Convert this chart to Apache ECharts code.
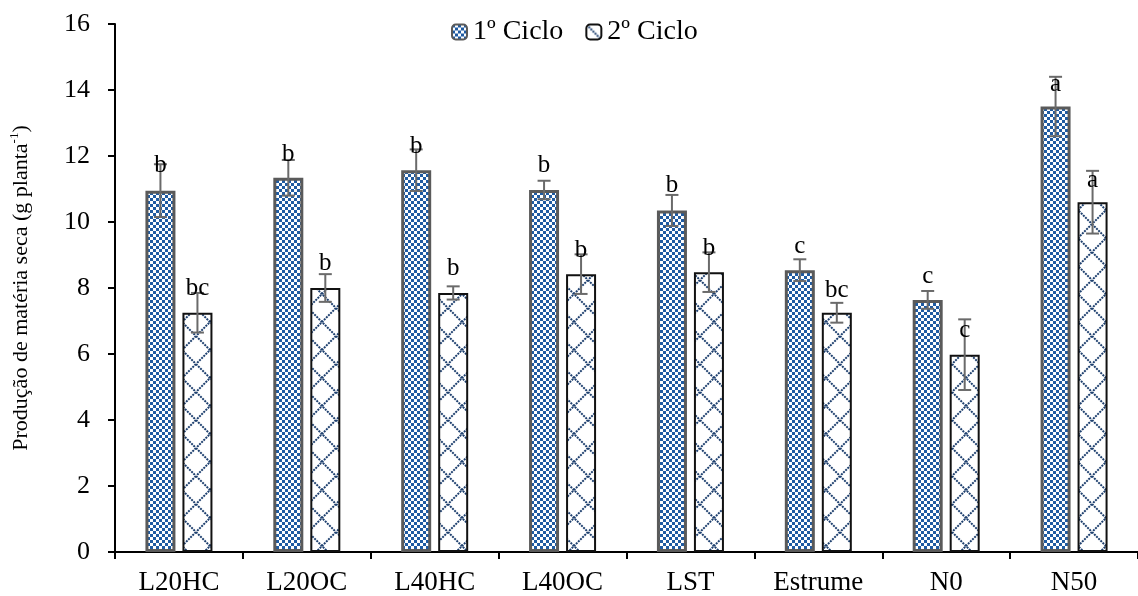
<!DOCTYPE html>
<html>
<head>
<meta charset="utf-8">
<script src="https://cdn.jsdelivr.net/npm/echarts@6/dist/echarts.min.js"></script>
<style>html,body{margin:0;padding:0;background:#fff}#c{width:1138px;height:596px}</style>
</head>
<body>
<div id="c"></div>
<script>
const categories = ['L20HC','L20OC','L40HC','L40OC','LST','Estrume','N0','N50'];
const ciclo1 = [10.95, 11.34, 11.57, 10.97, 10.35, 8.54, 7.64, 13.5];
const ciclo1Err = [0.8, 0.54, 0.63, 0.28, 0.47, 0.33, 0.27, 0.9];
const ciclo2 = [7.25, 8.0, 7.85, 8.42, 8.48, 7.25, 5.98, 10.6];
const ciclo2Err = [0.6, 0.42, 0.2, 0.6, 0.6, 0.3, 1.07, 0.95];
const letters1 = ['b','b','b','b','b','c','c','a'];
const letters2 = ['bc','b','b','b','b','bc','c','a'];
const letters1Y = [11.70, 12.06, 12.30, 11.70, 11.10, 9.26, 8.36, 14.17];
const letters2Y = [8.00, 8.75, 8.60, 9.14, 9.20, 7.94, 6.71, 11.25];
const seriesNames = ['1º Ciclo', '2º Ciclo'];
const yTicks = {min: 0, max: 16, interval: 2};

const FONT = "'Liberation Serif','Times New Roman',serif";
const BAR_W = 30, BAR_GAP = 7;
const OFFSET = (BAR_W + BAR_GAP) / 2;

function checker() {
  const c = document.createElement('canvas');
  c.width = 6; c.height = 6;
  const g = c.getContext('2d');
  g.fillStyle = '#ffffff'; g.fillRect(0,0,6,6);
  g.fillStyle = '#1f5ba2';
  g.fillRect(0,0,3,3); g.fillRect(3,3,3,3);
  return c;
}
function lattice() {
  const s = 28;
  const c = document.createElement('canvas');
  c.width = s; c.height = s;
  const g = c.getContext('2d');
  g.fillStyle = '#ffffff'; g.fillRect(0,0,s,s);
  g.strokeStyle = '#1d3f6e'; g.lineWidth = 2;
  g.setLineDash([2,1]);
  g.beginPath();
  g.moveTo(0,0); g.lineTo(s,s);
  g.moveTo(s,0); g.lineTo(0,s);
  g.stroke();
  return c;
}
const pat1 = {image: checker(), repeat: 'repeat'};
const pat2 = {image: lattice(), repeat: 'repeat'};

function errSeries(vals, errs, lets, letY, sign) {
  return {
    type: 'custom',
    z: 10,
    silent: true,
    data: vals.map((v, i) => [i, v, errs[i], letY[i]]),
    encode: {x: 0, y: 1},
    renderItem: function (params, api) {
      const i = api.value(0);
      const v = api.value(1), e = api.value(2), ly = api.value(3);
      const top = api.coord([i, v + e]);
      const bot = api.coord([i, v - e]);
      const lab = api.coord([i, ly]);
      const x = top[0] + sign * OFFSET;
      const cap = 6.5;
      const st = {stroke: '#6a6a6a', lineWidth: 2};
      return {
        type: 'group',
        children: [
          {type: 'line', shape: {x1: x, y1: top[1], x2: x, y2: bot[1]}, style: st},
          {type: 'line', shape: {x1: x - cap, y1: top[1], x2: x + cap, y2: top[1]}, style: st},
          {type: 'line', shape: {x1: x - cap, y1: bot[1], x2: x + cap, y2: bot[1]}, style: st},
          {type: 'text', x: x, y: lab[1], style: {text: lets[params.dataIndex], fill: '#000', font: '25px ' + FONT, align: 'center', verticalAlign: 'middle'}}
        ]
      };
    }
  };
}

const chart = echarts.init(document.getElementById('c'), null, {renderer: 'canvas'});
chart.setOption({
  animation: false,
  backgroundColor: '#fff',
  grid: {left: 113, top: 24, width: 1038, bottom: 41},
  legend: {
    data: seriesNames,
    top: 13, left: 446,
    itemWidth: 15, itemHeight: 15, itemGap: 22,
    textStyle: {fontFamily: FONT, fontSize: 28, color: '#000', padding: [0,0,0,1]},
  },
  xAxis: {
    type: 'category',
    data: categories,
    axisLine: {lineStyle: {color: '#000', width: 2}},
    axisTick: {show: true, length: 7, lineStyle: {color: '#000', width: 2}},
    axisLabel: {fontFamily: FONT, fontSize: 27, color: '#000', margin: 17}
  },
  yAxis: {
    type: 'value',
    min: yTicks.min, max: yTicks.max, interval: yTicks.interval,
    splitLine: {show: false},
    axisLine: {show: true, lineStyle: {color: '#000', width: 2}},
    axisTick: {show: true, length: 7, lineStyle: {color: '#000', width: 2}},
    axisLabel: {fontFamily: FONT, fontSize: 26, color: '#000', margin: 25},
    name: '{a|Produção de matéria seca (g planta}{s|-1}{a|)}',
    nameLocation: 'middle',
    nameGap: 81,
    nameTextStyle: {
      rich: {
        a: {fontFamily: FONT, fontSize: 22, color: '#000', lineHeight: 26},
        s: {fontFamily: FONT, fontSize: 13, color: '#000', lineHeight: 26, verticalAlign: 'top', padding: [0,0,10,0]}
      }
    }
  },
  series: [
    {
      name: seriesNames[0], type: 'bar', data: ciclo1,
      barWidth: BAR_W, barGap: (BAR_GAP / BAR_W * 100) + '%',
      itemStyle: {color: pat1, borderColor: '#5a5a5a', borderWidth: 3}
    },
    {
      name: seriesNames[1], type: 'bar', data: ciclo2,
      barWidth: BAR_W,
      itemStyle: {color: pat2, borderColor: '#111', borderWidth: 2}
    },
    errSeries(ciclo1, ciclo1Err, letters1, letters1Y, -1),
    errSeries(ciclo2, ciclo2Err, letters2, letters2Y, 1)
  ]
});
</script>
</body>
</html>
